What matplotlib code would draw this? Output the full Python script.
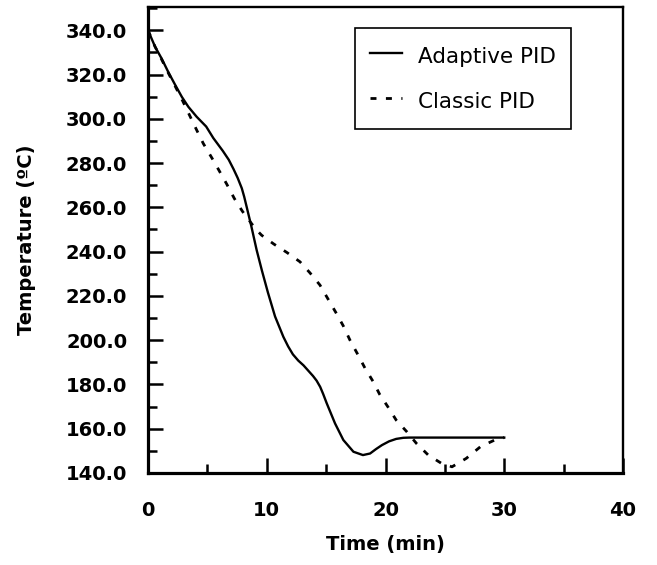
import matplotlib
matplotlib.use("Agg")
import matplotlib.pyplot as plt
from matplotlib.ticker import MultipleLocator, FormatStrFormatter

plt.rcParams['font.family'] = ['DejaVu Sans']

# Adaptive PID (solid)
adaptive_t = [0, 0.6, 1.15, 1.7, 2.3, 2.85, 3.4, 4.1, 4.9, 5.5, 6.3, 6.8, 7.2, 7.55, 7.9, 8.1,
              8.3, 8.7, 9.15, 9.6, 10.1, 10.7, 11.4, 11.8, 12.2, 12.65, 13.1, 13.9, 14.2,
              14.5, 14.75, 15.05, 15.75, 16.45, 17.3, 18.1, 18.7, 19.2, 19.7, 20.3, 20.9,
              21.5, 22.0, 25.0, 30.0]
adaptive_T = [340, 332.5, 327.2, 321.2, 315.2, 309.9, 305.4, 300.9, 296.5, 291.3, 285.5, 281.5,
              277.3, 273.3, 268.6, 264.8, 260.4, 251.5, 240.7, 231.3, 221.5, 210.7, 201.5,
              197.2, 193.6, 190.8, 188.6, 183.8, 181.7, 178.9, 175.7, 171.5, 162.4, 154.9,
              149.6, 148.1, 148.8, 150.8, 152.6, 154.3, 155.4, 155.9, 156, 156, 156]

# Classic PID (dashed)
classic_t = [0, 0.6, 1.15, 1.7, 2.3, 2.9, 3.5, 4.1, 4.66, 5.36, 6.0, 6.63, 7.27, 7.94,
             8.7, 9.1, 9.57, 10.6, 11.7, 12.8, 13.64, 14.48, 15.18, 15.83, 16.45, 17.0,
             17.62, 18.27, 18.97, 19.5, 20.2, 20.9, 21.8, 22.6, 23.6, 24.7, 25.6, 26.8,
             28.0, 29.2, 30.0]
classic_T = [340, 332.5, 326.8, 320.8, 314.6, 308.3, 301.6, 294.9, 288.8, 282.5, 276.5, 270.5,
             264.0, 258.3, 252.8, 250.0, 247.4, 243.4, 239.6, 235.4, 230.4, 224.9, 218.4,
             212.4, 206.4, 200.1, 194.0, 187.4, 181.2, 175.6, 169.9, 163.9, 158.6, 153.4,
             148.1, 144.4, 142.8, 146.6, 151.9, 154.9, 156]

x_range = (0, 40)
y_range = (140, 350.5)

fig = plt.figure(figsize=(6.57, 5.65), dpi=100)
ax = fig.add_axes([148/657, 1 - 473/565, 475/657, 466/565])

ax.plot(adaptive_t, adaptive_T, color='black', lw=1.7, label='Adaptive PID')
ax.plot(classic_t, classic_T, color='black', lw=2.0, dashes=(2.15, 3.4), label='Classic PID')

ax.set_xlim(*x_range)
ax.set_ylim(*y_range)

ax.xaxis.set_major_locator(MultipleLocator(10))
ax.xaxis.set_minor_locator(MultipleLocator(5))
ax.yaxis.set_major_locator(MultipleLocator(20))
ax.yaxis.set_minor_locator(MultipleLocator(10))
ax.yaxis.set_major_formatter(FormatStrFormatter('%.1f'))

ax.tick_params(axis='both', which='both', direction='in', top=False, right=False)
ax.tick_params(axis='both', which='major', length=10.8, width=1.8, labelsize=14)
ax.tick_params(axis='both', which='minor', length=6.8, width=1.8)
ax.tick_params(axis='x', which='major', pad=20)
ax.tick_params(axis='y', which='major', pad=15)
for lab in ax.get_xticklabels() + ax.get_yticklabels():
    lab.set_fontweight('bold')

for side in ['left', 'bottom']:
    ax.spines[side].set_linewidth(2.3)
for side in ['top', 'right']:
    ax.spines[side].set_linewidth(1.7)

ax.set_xlabel('Time (min)', fontsize=14, fontweight='bold')
ax.set_ylabel('Temperature (ºC)', fontsize=14, fontweight='bold')
ax.xaxis.set_label_coords(0.5, -0.133)
ax.yaxis.set_label_coords(-0.236, 0.5)

leg = ax.legend(loc='upper left', bbox_to_anchor=(0.436, 0.955), fontsize=15.5,
                frameon=True, fancybox=False, framealpha=1, edgecolor='black',
                handlelength=1.48, handleheight=1.5, handletextpad=0.78,
                labelspacing=0.88, borderpad=0.68, borderaxespad=0)
leg.get_frame().set_linewidth(1.2)

fig.savefig('out.png', dpi=100)
